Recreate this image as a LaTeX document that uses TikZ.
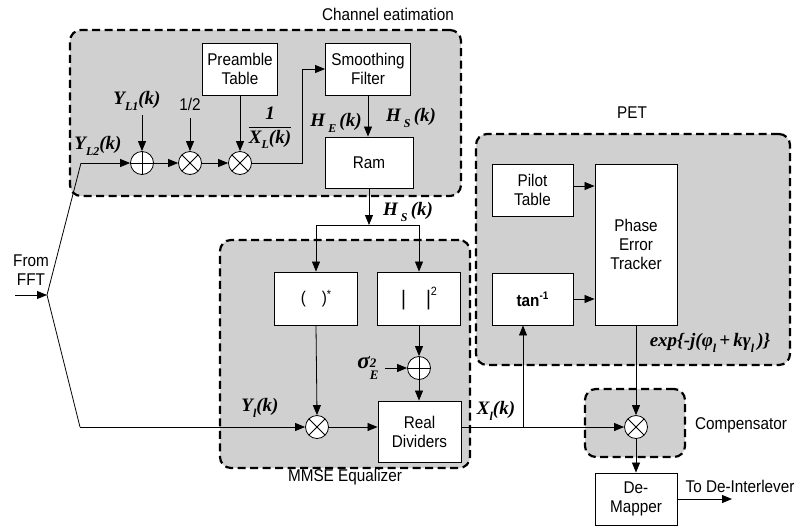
\documentclass[tikz,border=0pt]{standalone}
\usepackage{fontspec}
\setmainfont{Liberation Sans}[FakeStretch=0.9]
\newfontfamily\tms{Liberation Serif}
\usetikzlibrary{arrows.meta}
\definecolor{shade}{RGB}{208,208,208}
\newcommand{\mb}[1]{{\tms\bfseries\itshape\fontsize{19}{21}\selectfont #1}}
\newcommand{\sbs}[1]{\raisebox{-0.3em}{\fontsize{12}{12}\selectfont #1}}
\tikzset{
  blk/.style={draw, line width=0.9pt, fill=white, align=center, inner sep=1pt},
  grp/.style={draw, line width=2.2pt, dash pattern=on 8pt off 4.5pt, fill=shade, rounded corners=11pt},
  arr/.style={-{Triangle[length=10pt,width=8pt]}, line width=0.8pt},
  ln/.style={line width=0.8pt},
  opc/.style={circle, draw, line width=0.8pt, fill=white, minimum size=23pt, inner sep=0pt},
  plus/.style={opc, path picture={\draw[line width=0.8pt] (path picture bounding box.north) -- (path picture bounding box.south) (path picture bounding box.west) -- (path picture bounding box.east);}},
  times/.style={opc, path picture={\draw[line width=0.8pt] (path picture bounding box.north west) -- (path picture bounding box.south east) (path picture bounding box.south west) -- (path picture bounding box.north east);}},
  lbl/.style={inner sep=0pt, align=center}
}
\begin{document}
\begin{tikzpicture}[x=1pt,y=-1pt,font=\fontsize{17}{19}\selectfont]
\useasboundingbox (0,0) rectangle (805,528);
% group boxes
\node[grp, minimum width=391pt, minimum height=166pt] (ceg) at (265.5,113) {};
\node[grp, minimum width=250pt, minimum height=228pt] (mmseg) at (345,354) {};
\node[grp, minimum width=314pt, minimum height=231pt] (petg) at (633,249.5) {};
\node[grp, minimum width=100pt, minimum height=68pt] (compg) at (635,423) {};
% group labels
\node[lbl] (tce) at (388,14) {Channel eatimation};
\node[lbl] (tmmse) at (345,477) {MMSE Equalizer};
\node[lbl] (tpet) at (632,113) {PET};
\node[lbl] (tcomp) at (741,425) {Compensator};
% blocks
\node[blk, minimum width=75pt, minimum height=52pt] (pre) at (240,69) {Preamble\\Table};
\node[blk, minimum width=85pt, minimum height=52pt] (smooth) at (368,69) {Smoothing\\Filter};
\node[blk, minimum width=88pt, minimum height=51pt] (ram) at (369,162.5) {Ram};
\node[blk, minimum width=83pt, minimum height=53pt] (conj) at (316,298.5) {(\hspace{16pt})\raisebox{5pt}{\fontsize{12}{12}\selectfont *}};
\node[blk, minimum width=83pt, minimum height=53pt] (abs) at (419,298.5) {{\fontsize{21}{21}\selectfont |\hspace{20pt}|}\raisebox{10pt}{\fontsize{12}{12}\selectfont 2}};
\node[blk, minimum width=83pt, minimum height=61pt] (rdiv) at (419.5,431.5) {Real\\Dividers};
\node[blk, minimum width=81pt, minimum height=52pt] (pilot) at (532.5,190) {Pilot\\Table};
\node[blk, minimum width=81pt, minimum height=52pt] (tan) at (532.5,299) {\bfseries tan\raisebox{7pt}{\fontsize{11}{11}\selectfont -1}};
\node[blk, minimum width=82pt, minimum height=161pt] (pet) at (636,244.5) {Phase\\Error\\Tracker};
\node[blk, minimum width=82pt, minimum height=52pt] (demap) at (636,499) {De-\\Mapper};
% operators
\node[plus] (add1) at (142,163) {};
\node[times] (mul1) at (190,163) {};
\node[times] (mul2) at (240,163) {};
\node[plus] (add2) at (419,368) {};
\node[times] (mul3) at (317,427) {};
\node[times] (mul4) at (636,427) {};
% labels
\node[lbl] (lyl1) at (137,101) {\mb{Y\sbs{L1}(k)}};
\node[lbl] (lhalf) at (190,104) {1/2};
\node[lbl] (lyl2) at (98,146) {\mb{Y\sbs{L2}(k)}};
\node[lbl] (lfrac) at (270,128) {$\displaystyle\frac{\hbox{\mb{1}}}{\hbox{\mb{X\sbs{L}(k)}}}$};
\node[lbl] (lhe) at (336,123) {\mb{H\,\sbs{E}\,(k)}};
\node[lbl] (lhs1) at (411,118) {\mb{H\,\sbs{S}\,(k)}};
\node[lbl] (lhs2) at (408,212) {\mb{H\,\sbs{S}\,(k)}};
\node[lbl] (lsig) at (368,368) {\mb{{\fontsize{23}{23}\selectfont σ}\raisebox{-0.55em}{\fontsize{13}{14}\selectfont\shortstack[l]{2\\E}}}};
\node[lbl] (lyl) at (260,408) {\mb{Y\sbs{l}(k)}};
\node[lbl] (lxl) at (496,411) {\mb{X\sbs{l}(k)}};
\node[lbl] (lexp) at (710,343) {\mb{exp\{-j(φ\sbs{l}\,+\,kγ\sbs{l}\,)\}}};
\node[lbl] (lfft) at (31,270) {From\\FFT};
\node[lbl] (lout) at (740,486) {To De-Interlever};
% coordinates
\coordinate (src) at (15,295);
\coordinate (fft) at (47,295);
\coordinate (yl2) at (81,163);
\coordinate (yl) at (80,427);
\coordinate (hs) at (369,225);
\coordinate (br) at (523,427);
\coordinate (out) at (732,499);
% connectors
\draw[arr] (src) -- (fft);
\draw[ln] (fft) -- (yl2);
\draw[arr] (yl2) -- (add1);
\draw[ln] (fft) -- (yl);
\draw[arr] (yl) -- (mul3);
\draw[arr] ([yshift=36pt]add1.north) -- (add1.north);
\draw[arr] ([yshift=33pt]mul1.north) -- (mul1.north);
\draw[arr] (add1) -- (mul1);
\draw[arr] (mul1) -- (mul2);
\draw[arr] (pre.south) -- (mul2.north);
\draw[arr] (mul2.east) -- ++(50,0) |- (smooth.west);
\draw[arr] (smooth.south) -- (smooth.south |- ram.north);
\draw[arr] (ram.south) -- (hs);
\draw[arr] (hs) -| (conj.north);
\draw[arr] (hs) -| (abs.north);
\draw[arr] (conj.south) -- (mul3.north);
\draw[arr] (abs.south) -- (add2.north);
\draw[arr] ([xshift=-22pt]add2.west) -- (add2.west);
\draw[arr] (add2.south) -- (add2.south |- rdiv.north);
\draw[arr] (mul3) -- (rdiv.west |- mul3);
\draw[arr] (rdiv.east |- mul3) -- (mul4);
\draw[arr] (br) -- (br |- tan.south);
\draw[arr] (pilot.east |- 0,186) -- (pet.west |- 0,186);
\draw[arr] (tan.east) -- (pet.west |- tan.east);
\draw[arr] (pet.south) -- (mul4.north);
\draw[arr] (mul4.south) -- (demap.north);
\draw[arr] (demap.east) -- (out);
\end{tikzpicture}
\end{document}
